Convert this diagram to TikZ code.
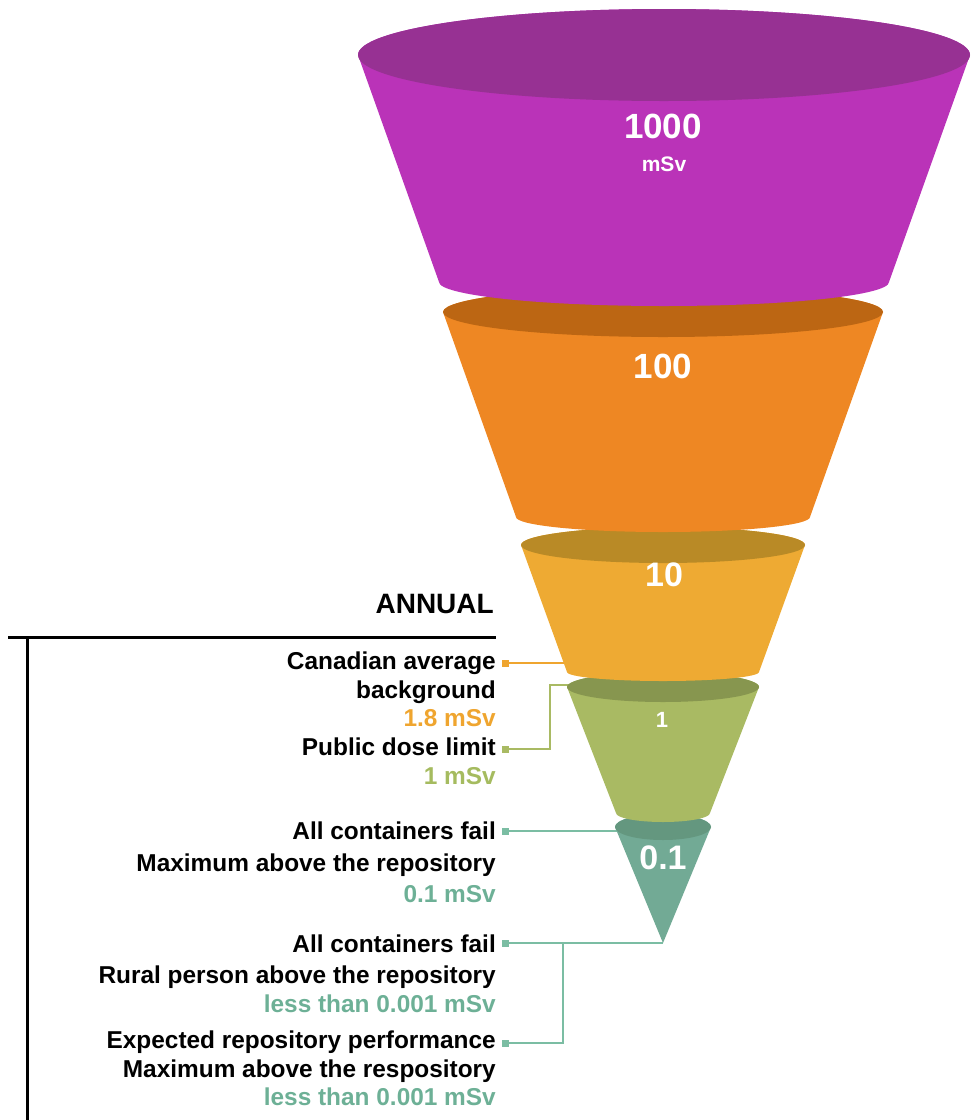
\documentclass[tikz,border=0pt]{standalone}
\usepackage{fontspec}
\setmainfont{Liberation Sans}
\definecolor{purpB}{HTML}{BA33B8}\definecolor{purpT}{HTML}{973193}
\definecolor{oranB}{HTML}{EE8723}\definecolor{oranT}{HTML}{BC6613}
\definecolor{yellB}{HTML}{EEAA33}\definecolor{yellT}{HTML}{B98A26}
\definecolor{grenB}{HTML}{A9BA63}\definecolor{grenT}{HTML}{87964F}
\definecolor{tealB}{HTML}{72AA95}\definecolor{tealT}{HTML}{64977F}
\definecolor{lblO}{HTML}{EFA52F}\definecolor{lblG}{HTML}{A5BB5F}
\definecolor{lblT}{HTML}{6DB096}\definecolor{lineT}{HTML}{7BBDA3}
\newcommand{\segm}[9]{%
  \fill[#8] (#1-#3,#2) -- (#1-#6,#5) arc[start angle=180,end angle=0,x radius=#6,y radius=#7]
    -- (#1+#3,#2) arc[start angle=360,end angle=180,x radius=#3,y radius=#4] -- cycle;
  \fill[#9] (#1,#2) ellipse[x radius=#3,y radius=#4];}
\tikzset{
  lbl/.style={anchor=mid east,inner sep=0pt,font=\fontsize{24.4}{28}\selectfont\bfseries},
  num/.style={text=white,inner sep=0pt,font=\bfseries},
  sq/.style={fill=#1,minimum size=7pt,inner sep=0pt,draw=none},
  conn/.style={draw=#1,line width=1.8pt}
}
\begin{document}
\begin{tikzpicture}[x=1pt,y=-1pt]
\useasboundingbox (0,0) rectangle (971,1120);
% annual frame
\node[anchor=mid east,inner sep=0pt,font=\fontsize{28}{32}\selectfont\bfseries] (annual) at (494,611) {ANNUAL};
\coordinate (hl) at (8,637); \coordinate (hr) at (496,637);
\coordinate (vt) at (27,637); \coordinate (vb) at (27,1120);
\draw[line width=3pt] (hl) -- (hr);
\draw[line width=3pt] (vt) -- (vb);
% labels
\node[lbl] (l1) at (496,667) {Canadian average};
\node[lbl] (l1b) at (496,696) {background};
\node[lbl,text=lblO] (l1c) at (496,724) {1.8 mSv};
\node[lbl] (l2) at (496,753) {Public dose limit};
\node[lbl,text=lblG] (l2b) at (496,782) {1 mSv};
\node[lbl] (l3) at (496,837) {All containers fail};
\node[lbl] (l3b) at (496,869) {Maximum above the repository};
\node[lbl,text=lblT] (l3c) at (496,900) {0.1 mSv};
\node[lbl] (l4) at (496,950) {All containers fail};
\node[lbl] (l4b) at (496,981) {Rural person above the repository};
\node[lbl,text=lblT] (l4c) at (496,1010) {less than 0.001 mSv};
\node[lbl] (l5) at (496,1046) {Expected repository performance};
\node[lbl] (l5b) at (496,1075) {Maximum above the respository};
\node[lbl,text=lblT] (l5c) at (496,1103) {less than 0.001 mSv};
% squares
\node[sq=lblO] (s1) at (505,663) {};
\node[sq=grenB] (s2) at (505,749) {};
\node[sq=lineT] (s3) at (505,831) {};
\node[sq=lineT] (s4) at (505,943) {};
\node[sq=lineT] (s5) at (505,1043) {};
% connector ends
\coordinate (e1) at (578,663);
\coordinate (e2) at (575,685);
\coordinate (e3) at (625,831);
\coordinate (e4) at (663,943);
\coordinate (j5) at (563,943);
\draw[conn=lblO] (s1.center) -- (e1);
\draw[conn=grenB] (s2.center) -- ++(45,0) |- (e2);
\draw[conn=lineT] (s3.center) -- (e3);
\draw[conn=lineT] (s4.center) -- (e4);
\draw[conn=lineT] (s5.center) -| (j5);
% funnel, bottom to top
\fill[tealB] (615,827) -- (663,943) -- (711,827) arc[start angle=360,end angle=180,x radius=48,y radius=13] -- cycle;
\fill[tealT] (663,827) ellipse[x radius=48,y radius=13];
\segm{663}{687}{96}{15}{813}{47}{9}{grenB}{grenT}
\segm{663}{545}{142}{18}{672}{96}{9}{yellB}{yellT}
\segm{663}{312}{220}{25}{517}{147}{15}{oranB}{oranT}
\segm{664}{55}{306}{46}{282}{225}{24}{purpB}{purpT}
% numbers
\node[num,font=\fontsize{35}{40}\selectfont\bfseries] (n1000) at (663,126) {1000};
\node[num,font=\fontsize{21}{24}\selectfont\bfseries] (nmsv) at (664,164) {mSv};
\node[num,font=\fontsize{35}{40}\selectfont\bfseries] (n100) at (663,366) {100};
\node[num,font=\fontsize{34}{40}\selectfont\bfseries] (n10) at (664,575) {10};
\node[num,font=\fontsize{22}{24}\selectfont\bfseries] (n1) at (662,720) {1};
\node[num,font=\fontsize{34}{40}\selectfont\bfseries] (n01) at (663,858) {0.1};
\end{tikzpicture}
\end{document}
